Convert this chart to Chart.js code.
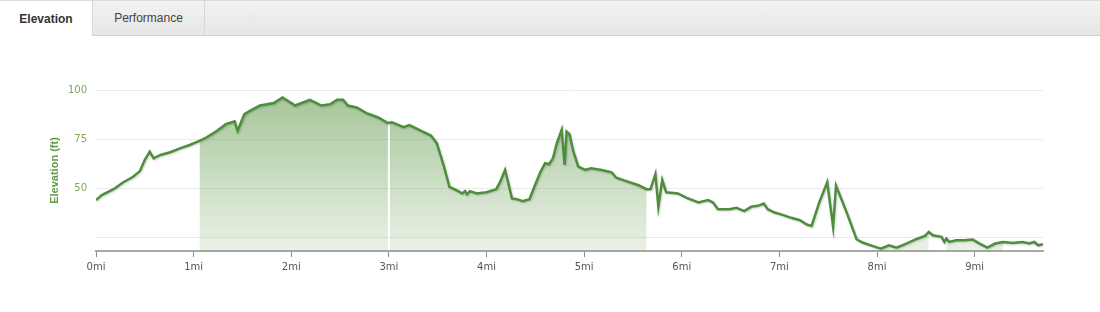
<!DOCTYPE html>
<html>
<head>
<meta charset="utf-8">
<script src="https://cdn.jsdelivr.net/npm/chart.js@4/dist/chart.umd.min.js"></script>
<style>
    html, body { margin: 0; padding: 0; background: #fff; }
    body { width: 1100px; height: 312px; position: relative; overflow: hidden; font-family: "Liberation Sans", Arial, sans-serif; }
    .tabbar {
        position: absolute; left: 0; top: 0; width: 1100px; height: 34px;
        border-top: 1px solid #dadada; border-bottom: 1px solid #d2d2d2;
        background: linear-gradient(#f2f2f2, #e6e6e6);
    }
    .tab { position: absolute; top: 0; height: 34px; font-size: 12px; text-align: center; }
    .tab.active { left: 0; width: 92px; height: 35px; line-height: 37px; background: #fff; color: #333; font-weight: bold; }
    .tab.other { left: 92px; width: 113px; color: #444; border-left: 1px solid #d8d8d8; border-right: 1px solid #d8d8d8; box-sizing: border-box; line-height: 35px; }
    .wrap { position: absolute; left: 0; top: 36px; width: 1100px; height: 276px; }
</style>
</head>
<body>
<div class="tabbar">
    <div class="tab active">Elevation</div>
    <div class="tab other">Performance</div>
</div>
<div class="wrap"><canvas id="chartElev" width="1100" height="276"></canvas></div>
<script>
// distance along the route (mi) and elevation (ft)
const miles = [0.00, 0.06, 0.18, 0.28, 0.38, 0.45, 0.50, 0.55, 0.59, 0.66, 0.76, 0.86, 0.96,
    1.06, 1.13, 1.24, 1.33, 1.42, 1.45, 1.52, 1.58, 1.68, 1.82, 1.91, 2.04, 2.19, 2.31, 2.40,
    2.47, 2.53, 2.58, 2.67, 2.77, 2.89, 2.99, 3.01, 3.03, 3.15, 3.21, 3.31, 3.43, 3.49, 3.56,
    3.62, 3.71, 3.75, 3.78, 3.80, 3.83, 3.90, 4.00, 4.10, 4.14, 4.19, 4.22, 4.26, 4.31, 4.37,
    4.44, 4.49, 4.55, 4.60, 4.64, 4.68, 4.72, 4.77, 4.80, 4.82, 4.85, 4.89, 4.94, 5.01, 5.07,
    5.18, 5.28, 5.33, 5.43, 5.55, 5.64, 5.68, 5.73, 5.76, 5.80, 5.84, 5.96, 6.05, 6.17, 6.27,
    6.32, 6.37, 6.49, 6.56, 6.64, 6.71, 6.78, 6.84, 6.88, 6.95, 7.04, 7.12, 7.21, 7.28, 7.33,
    7.41, 7.49, 7.55, 7.58, 7.68, 7.79, 7.85, 7.95, 8.04, 8.12, 8.20, 8.30, 8.40, 8.49, 8.53,
    8.57, 8.66, 8.69, 8.71, 8.74, 8.81, 8.89, 8.98, 9.05, 9.13, 9.21, 9.29, 9.39, 9.49, 9.56,
    9.61, 9.65, 9.70]
const elevation = [43.9, 46.5, 49.5, 53.0, 55.8, 58.7, 64.4, 68.6, 65.2, 66.9, 68.3, 70.3, 72.0,
    74.1, 75.8, 79.2, 82.6, 84.0, 79.2, 87.7, 89.5, 92.1, 93.4, 96.2, 92.1, 95.0, 92.1, 92.8,
    95.0, 95.0, 92.1, 91.1, 88.2, 86.0, 83.1, 83.4, 83.6, 81.1, 82.1, 79.7, 76.8, 72.9, 61.8,
    50.7, 48.5, 47.3, 48.5, 46.8, 48.5, 47.3, 47.9, 49.5, 53.3, 59.3, 53.3, 44.8, 44.4, 43.4,
    44.4, 50.7, 58.1, 62.7, 62.2, 65.2, 72.9, 79.7, 61.8, 78.8, 77.5, 68.6, 61.0, 59.3, 60.1,
    59.3, 58.1, 55.3, 53.6, 51.6, 49.5, 49.5, 57.1, 40.5, 54.1, 47.9, 47.3, 45.1, 42.7, 43.9,
    42.7, 39.3, 39.3, 40.0, 38.3, 40.5, 41.0, 42.2, 39.3, 37.6, 36.3, 34.9, 33.7, 31.5, 30.8,
    43.0, 53.0, 30.3, 51.2, 38.8, 24.0, 22.3, 20.6, 19.2, 20.9, 19.7, 21.8, 24.0, 25.7, 27.7,
    26.0, 25.2, 22.6, 24.3, 22.6, 23.5, 23.5, 23.8, 21.8, 19.7, 21.8, 22.6, 22.1, 22.6, 21.8,
    22.6, 20.9, 21.4]

// highlighted stretches of the route (mi)
const segmentStart = [1.06, 3.01, 8.04, 8.71]
const segmentEnd = [2.99, 5.64, 8.53, 9.29]

const yTicksShown = [50, 75, 100]

const points = miles.map((m, i) => ({ x: m, y: elevation[i] }))

function areaGradient(context) {
    const area = context.chart.chartArea
    if (!area) return "rgba(106,160,85,0.4)"
    const g = context.chart.ctx.createLinearGradient(0, area.top, 0, area.bottom)
    g.addColorStop(0, "rgba(106,160,85,0.62)")
    g.addColorStop(1, "rgba(106,160,85,0.14)")
    return g
}

const datasets = [
    {
        label: "Elevation",
        data: points,
        borderColor: "#4d8e3c",
        borderWidth: 2.5,
        pointRadius: 0,
        tension: 0,
        fill: false,
    },
]
segmentStart.forEach((s, k) => {
    datasets.push({
        label: "segment " + (k + 1),
        data: points.filter((p) => p.x >= s && p.x <= segmentEnd[k]),
        borderWidth: 0,
        pointRadius: 0,
        tension: 0,
        fill: "start",
        backgroundColor: areaGradient,
    })
})

// soft shadow under the line, like the original
const lineShadow = {
    id: "lineShadow",
    beforeDatasetDraw(chart, args) {
        if (args.index !== 0) return
        const ctx = chart.ctx
        ctx.shadowColor = "rgba(0,0,0,0.18)"
        ctx.shadowBlur = 2
        ctx.shadowOffsetX = 1
        ctx.shadowOffsetY = 1
    },
    afterDatasetDraw(chart, args) {
        if (args.index !== 0) return
        const ctx = chart.ctx
        ctx.shadowColor = "rgba(0,0,0,0)"
        ctx.shadowBlur = 0
        ctx.shadowOffsetX = 0
        ctx.shadowOffsetY = 0
    },
}

const config = {
    type: "line",
    data: { datasets: datasets },
    plugins: [lineShadow],
    options: {
        responsive: false,
        animation: false,
        devicePixelRatio: 1,
        layout: { padding: { left: 0, right: 57, top: 54, bottom: 0 } },
        plugins: { legend: { display: false }, tooltip: { enabled: false } },
        scales: {
            x: {
                type: "linear",
                min: 0,
                max: 9.7,
                afterFit: (scale) => { scale.height = 61 },
                border: { display: true, color: "#a8a8a8", width: 2 },
                grid: { drawOnChartArea: false, drawTicks: true, tickLength: 6, tickColor: "#8a8a8a", tickWidth: 1 },
                ticks: {
                    stepSize: 1,
                    includeBounds: false,
                    maxRotation: 0,
                    padding: 4,
                    color: "#555",
                    font: { family: "DejaVu Sans", size: 10 },
                    callback: (v) => v + "mi",
                },
            },
            y: {
                min: 18,
                max: 100,
                afterFit: (scale) => { scale.width = 96 },
                border: { display: false },
                grid: { color: "#ebebeb", lineWidth: 1, drawTicks: false },
                ticks: {
                    stepSize: 25,
                    includeBounds: false,
                    padding: 9,
                    color: "#78aa5c",
                    font: { family: "DejaVu Sans", size: 10 },
                    callback: (v) => (yTicksShown.includes(v) ? String(v) : ""),
                },
                title: {
                    display: true,
                    text: "Elevation (ft)",
                    color: "#5e9a47",
                    padding: { top: 48, bottom: 0 },
                    font: { family: "Liberation Sans", size: 11, weight: "bold" },
                },
            },
        },
    },
}

var chartElev = new Chart(document.getElementById("chartElev"), config)
</script>
</body>
</html>
